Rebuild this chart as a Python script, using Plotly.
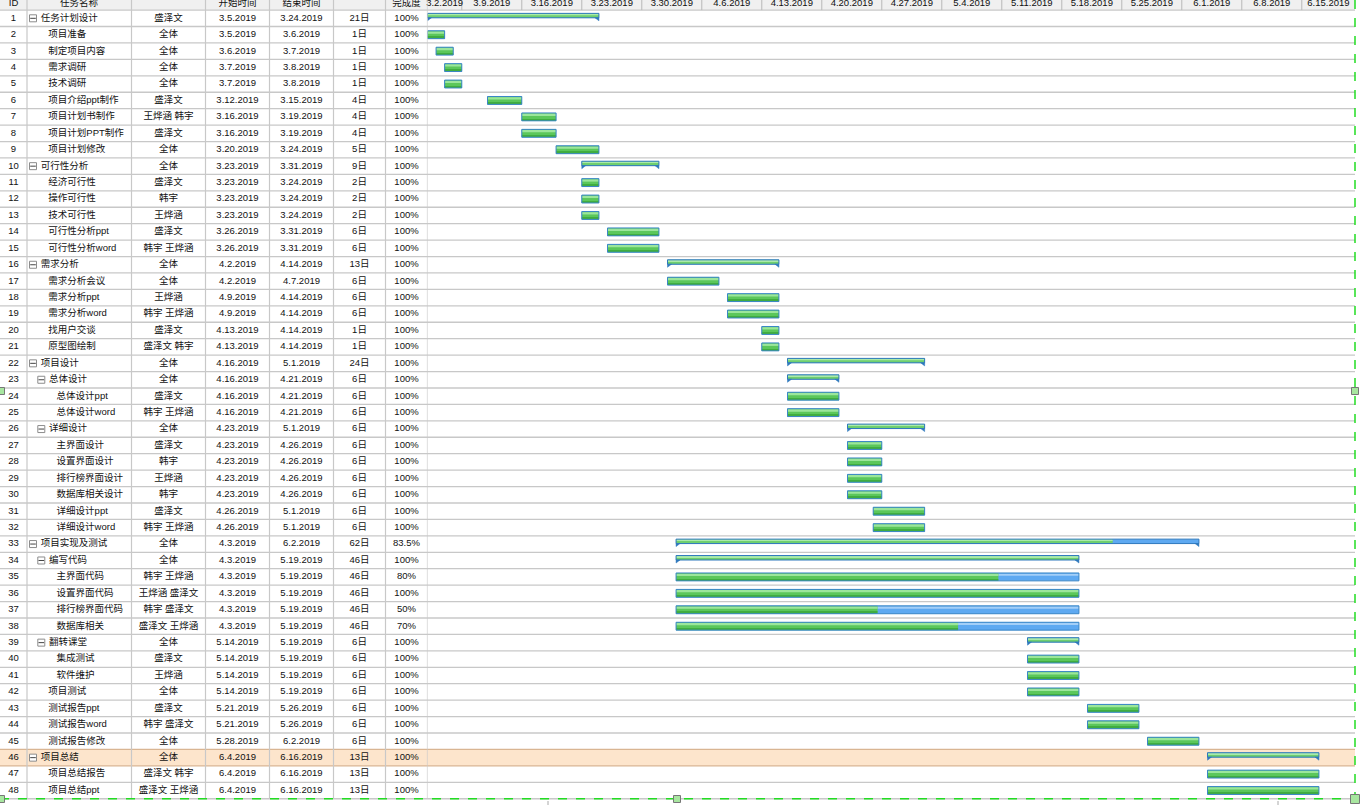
import datetime as dt
import plotly.graph_objects as go

# ---------------- data ----------------
ids = list(range(1, 49))
names = ["任务计划设计", "项目准备", "制定项目内容", "需求调研", "技术调研", "项目介绍ppt制作",
         "项目计划书制作", "项目计划PPT制作", "项目计划修改", "可行性分析", "经济可行性", "操作可行性",
         "技术可行性", "可行性分析ppt", "可行性分析word", "需求分析", "需求分析会议", "需求分析ppt",
         "需求分析word", "找用户交谈", "原型图绘制", "项目设计", "总体设计", "总体设计ppt",
         "总体设计word", "详细设计", "主界面设计", "设置界面设计", "排行榜界面设计", "数据库相关设计",
         "详细设计ppt", "详细设计word", "项目实现及测试", "编写代码", "主界面代码", "设置界面代码",
         "排行榜界面代码", "数据库相关", "翻转课堂", "集成测试", "软件维护", "项目测试",
         "测试报告ppt", "测试报告word", "测试报告修改", "项目总结", "项目总结报告", "项目总结ppt"]
owners = ["盛泽文", "全体", "全体", "全体", "全体", "盛泽文", "王烨涵 韩宇", "盛泽文", "全体", "全体",
          "盛泽文", "韩宇", "王烨涵", "盛泽文", "韩宇 王烨涵", "全体", "全体", "王烨涵", "韩宇 王烨涵",
          "盛泽文", "盛泽文 韩宇", "全体", "全体", "盛泽文", "韩宇 王烨涵", "全体", "盛泽文", "韩宇",
          "王烨涵", "韩宇", "盛泽文", "韩宇 王烨涵", "全体", "全体", "韩宇 王烨涵", "王烨涵 盛泽文",
          "韩宇 盛泽文", "盛泽文 王烨涵", "全体", "盛泽文", "王烨涵", "全体", "盛泽文", "韩宇 盛泽文",
          "全体", "全体", "盛泽文 韩宇", "盛泽文 王烨涵"]
starts = ["3.5.2019", "3.5.2019", "3.6.2019", "3.7.2019", "3.7.2019", "3.12.2019", "3.16.2019",
          "3.16.2019", "3.20.2019", "3.23.2019", "3.23.2019", "3.23.2019", "3.23.2019", "3.26.2019",
          "3.26.2019", "4.2.2019", "4.2.2019", "4.9.2019", "4.9.2019", "4.13.2019", "4.13.2019",
          "4.16.2019", "4.16.2019", "4.16.2019", "4.16.2019", "4.23.2019", "4.23.2019", "4.23.2019",
          "4.23.2019", "4.23.2019", "4.26.2019", "4.26.2019", "4.3.2019", "4.3.2019", "4.3.2019",
          "4.3.2019", "4.3.2019", "4.3.2019", "5.14.2019", "5.14.2019", "5.14.2019", "5.14.2019",
          "5.21.2019", "5.21.2019", "5.28.2019", "6.4.2019", "6.4.2019", "6.4.2019"]
ends = ["3.24.2019", "3.6.2019", "3.7.2019", "3.8.2019", "3.8.2019", "3.15.2019", "3.19.2019",
        "3.19.2019", "3.24.2019", "3.31.2019", "3.24.2019", "3.24.2019", "3.24.2019", "3.31.2019",
        "3.31.2019", "4.14.2019", "4.7.2019", "4.14.2019", "4.14.2019", "4.14.2019", "4.14.2019",
        "5.1.2019", "4.21.2019", "4.21.2019", "4.21.2019", "5.1.2019", "4.26.2019", "4.26.2019",
        "4.26.2019", "4.26.2019", "5.1.2019", "5.1.2019", "6.2.2019", "5.19.2019", "5.19.2019",
        "5.19.2019", "5.19.2019", "5.19.2019", "5.19.2019", "5.19.2019", "5.19.2019", "5.19.2019",
        "5.26.2019", "5.26.2019", "6.2.2019", "6.16.2019", "6.16.2019", "6.16.2019"]
durations = ["21日", "1日", "1日", "1日", "1日", "4日", "4日", "4日", "5日",
             "9日", "2日", "2日", "2日", "6日", "6日",
             "13日", "6日", "6日", "6日", "1日", "1日",
             "24日", "6日", "6日", "6日", "6日", "6日", "6日", "6日", "6日", "6日", "6日",
             "62日", "46日", "46日", "46日", "46日", "46日",
             "6日", "6日", "6日", "6日", "6日", "6日", "6日",
             "13日", "13日", "13日"]
progress = [100] * 32 + [83.5, 100, 80, 100, 50, 70] + [100] * 10
levels = [0, 1, 1, 1, 1, 1, 1, 1, 1,
          0, 1, 1, 1, 1, 1,
          0, 1, 1, 1, 1, 1,
          0, 1, 2, 2, 1, 2, 2, 2, 2, 2, 2,
          0, 1, 2, 2, 2, 2, 1, 2, 2, 1, 1, 1, 1,
          0, 1, 1]
summary_ids = [1, 10, 16, 22, 23, 26, 33, 34, 39, 46]
highlight_id = 46
header_labels = ["ID", "任务名称", "", "开始时间", "结束时间", "", "完成度"]
week_labels = ["3.2.2019", "3.9.2019", "3.16.2019", "3.23.2019", "3.30.2019", "4.6.2019",
               "4.13.2019", "4.20.2019", "4.27.2019", "5.4.2019", "5.11.2019", "5.18.2019",
               "5.25.2019", "6.1.2019", "6.8.2019", "6.15.2019"]


def parse(s):
    m, d, y = s.split(".")
    return dt.datetime(int(y), int(m), int(d))


# ---------------- layout geometry ----------------
W, H = 1366, 805
TABLE_R = 427.5
TL_R = 1355
ROW_H = 16.43
ROW1 = 18.3
PX_DAY = 60 / 7


def vy(p):
    return (p - ROW1) / ROW_H + 1


y_top, y_bot = vy(0), vy(H)
view_start = dt.datetime(2019, 3, 5)
view_end = view_start + dt.timedelta(days=(TL_R - TABLE_R) / PX_DAY)
col_lines = [27, 131.5, 205.5, 269.5, 333.5, 385.5, TABLE_R]
col_centers = [13.5, None, 168.5, 237.5, 301.5, 359.5, 406.5]
FONT = "Liberation Sans, Noto Sans CJK SC, sans-serif"
TXT = 9.5

MS_DAY = 86400000
sdt = [parse(s) for s in starts]
edt = [parse(e) + dt.timedelta(days=1) for e in ends]
dur_ms = [(e - s).total_seconds() * 1000 for s, e in zip(sdt, edt)]
is_sum = [i in summary_ids for i in ids]

leaf = [k for k in range(48) if not is_sum[k]]
summ = [k for k in range(48) if is_sum[k]]

fig = go.Figure()


def bars(idx, frac, color, width, offset, line=None):
    fig.add_trace(go.Bar(
        orientation="h",
        y=[ids[k] for k in idx],
        base=[sdt[k].isoformat() for k in idx],
        x=[dur_ms[k] * (progress[k] / 100 if frac else 1) for k in idx],
        width=width, offset=offset,
        marker=dict(color=color,
                    line=dict(color=line or "rgba(0,0,0,0)", width=1 if line else 0)),
        hoverinfo="skip", showlegend=False, xaxis="x", yaxis="y"))


# leaf task bars
bars(leaf, False, "#5ea9f1", 0.48, -0.24)
bars(leaf, False, "#a3cff8", 0.13, -0.2)
bars(leaf, True, "#5bc75b", 0.48, -0.24)
bars(leaf, True, "#9be69b", 0.14, -0.2)
bars(leaf, True, "#40ad40", 0.09, 0.13)
bars(leaf, False, "rgba(0,0,0,0)", 0.48, -0.24, line="#3a86c6")

# summary bars
bars(summ, False, "#5ea9f1", 0.27, -0.3)
bars(summ, True, "#6fcf6f", 0.27, -0.3)
bars(summ, True, "#a9eaa9", 0.08, -0.27)
bars(summ, False, "rgba(0,0,0,0)", 0.27, -0.3, line="#2e78bd")

# summary end triangles
tri_w = dt.timedelta(days=4 / PX_DAY)
tx, ty = [], []
for k in summ:
    yb = ids[k] - 0.035
    s, e = sdt[k], edt[k]
    tx += [s, s + tri_w, s, s, None, e, e - tri_w, e, e, None]
    ty += [yb, yb, yb + 0.19, yb, None, yb, yb, yb + 0.19, yb, None]
fig.add_trace(go.Scatter(x=tx, y=ty, mode="lines", fill="toself", fillcolor="#2e78bd",
                         line=dict(color="#2e78bd", width=0.5), hoverinfo="skip",
                         showlegend=False, xaxis="x", yaxis="y"))

# ---------------- table text ----------------
def col_text(xs, ys, texts, pos="middle center", color="#111"):
    fig.add_trace(go.Scatter(x=xs, y=ys, text=texts, mode="text", textposition=pos,
                             textfont=dict(family=FONT, size=TXT, color=color),
                             hoverinfo="skip", showlegend=False, cliponaxis=False,
                             xaxis="x2", yaxis="y"))


columns = [[str(i) for i in ids], None, owners, starts, ends, durations,
           [f"{p:g}%" for p in progress]]
for c, vals in enumerate(columns):
    if vals is None:
        continue
    col_text([col_centers[c]] * 48, ids, vals)

name_x = []
for k in range(48):
    if is_sum[k]:
        name_x.append(40.7 + 8.3 * levels[k])
    else:
        name_x.append(48.3 + 8.3 * (levels[k] - 1))
col_text(name_x, ids, names, pos="middle right")

# collapse icons
icon_x = [33 + 8.3 * levels[k] for k in summ]
icon_y = [ids[k] for k in summ]
fig.add_trace(go.Scatter(x=icon_x, y=icon_y, mode="markers",
                         marker=dict(symbol="square", size=7, color="white",
                                     line=dict(color="#8c8c8c", width=1)),
                         hoverinfo="skip", showlegend=False, xaxis="x2", yaxis="y"))
fig.add_trace(go.Scatter(x=icon_x, y=icon_y, mode="markers",
                         marker=dict(symbol="line-ew", size=4,
                                     line=dict(color="#444", width=1)),
                         hoverinfo="skip", showlegend=False, xaxis="x2", yaxis="y"))

# header text (table)
hdr_x = [13.5, 79, 168.5, 237.5, 301.5, 359.5, 406.5]
col_text(hdr_x, [0.08] * 7, header_labels)

# header text (timeline)
wk = [parse(s) for s in week_labels]
wk_c = []
for w in wk:
    a = max(w, view_start)
    b = min(w + dt.timedelta(days=7), view_end)
    wk_c.append(a + (b - a) / 2)
fig.add_trace(go.Scatter(x=wk_c, y=[0.08] * len(wk), text=week_labels, mode="text",
                         textfont=dict(family=FONT, size=TXT, color="#111"),
                         hoverinfo="skip", showlegend=False, cliponaxis=False,
                         xaxis="x", yaxis="y"))

# ---------------- shapes ----------------
shapes = []
GRID = "#c8c8c8"
# header background
shapes.append(dict(type="rect", xref="paper", yref="y", x0=0, x1=TL_R / W, y0=y_top, y1=0.5,
                   fillcolor="#f0f0f0", line=dict(width=0), layer="below"))
# highlighted row
shapes.append(dict(type="rect", xref="paper", yref="y", x0=0, x1=TL_R / W,
                   y0=highlight_id - 0.5, y1=highlight_id + 0.5,
                   fillcolor="#fde5cc", line=dict(width=0), layer="below"))
# row lines
for r in range(0, 49):
    col = "#d9b592" if r in (highlight_id - 1, highlight_id) else GRID
    shapes.append(dict(type="line", xref="paper", yref="y", x0=0, x1=TL_R / W,
                       y0=r + 0.5, y1=r + 0.5, line=dict(color=col, width=1.3), layer="below"))
# table column lines
for xl in col_lines:
    shapes.append(dict(type="line", xref="x2", yref="y", x0=xl, x1=xl, y0=y_top, y1=48.5,
                       line=dict(color=GRID, width=1.2), layer="below"))
# timeline header separators
for w in wk:
    if w > view_start:
        shapes.append(dict(type="line", xref="x", yref="y", x0=w, x1=w, y0=y_top, y1=0.5,
                           line=dict(color="#b8b8b8", width=1), layer="below"))
# selection frame (green dashed)
shapes.append(dict(type="line", xref="paper", yref="paper", x0=TL_R / W, x1=TL_R / W,
                   y0=1, y1=1 - 799 / H, line=dict(color="#22dd22", width=1.5, dash="dash")))
shapes.append(dict(type="line", xref="paper", yref="y", x0=0, x1=TL_R / W,
                   y0=48.5, y1=48.5, line=dict(color="#22dd22", width=1.5, dash="dash")))
# handles
for (hx, hy, hs) in [(TL_R, 391, 7), (677, 799, 7), (TL_R, 799, 9), (1, 799, 7), (1, 391, 7)]:
    shapes.append(dict(type="rect", xref="paper", yref="paper",
                       x0=(hx - hs / 2) / W, x1=(hx + hs / 2) / W,
                       y0=1 - (hy + hs / 2) / H, y1=1 - (hy - hs / 2) / H,
                       fillcolor="#a8e6a0", line=dict(color="#777", width=1)))
for bx in (548, 1278):
    shapes.append(dict(type="line", xref="paper", yref="paper", x0=bx / W, x1=bx / W,
                       y0=1 - 801 / H, y1=1 - 805 / H, line=dict(color="#aaa", width=1)))

fig.update_layout(
    width=W, height=H,
    margin=dict(l=0, r=0, t=0, b=0),
    paper_bgcolor="white", plot_bgcolor="white",
    barmode="overlay", showlegend=False, hovermode=False,
    xaxis=dict(type="date", range=[view_start, view_end], domain=[TABLE_R / W, TL_R / W],
               visible=False, anchor="y", fixedrange=True),
    xaxis2=dict(range=[0, TABLE_R], domain=[0, TABLE_R / W], visible=False, anchor="y",
                fixedrange=True),
    yaxis=dict(range=[y_bot, y_top], domain=[0, 1], visible=False, fixedrange=True),
    shapes=shapes,
)

fig.write_html("out.html")
